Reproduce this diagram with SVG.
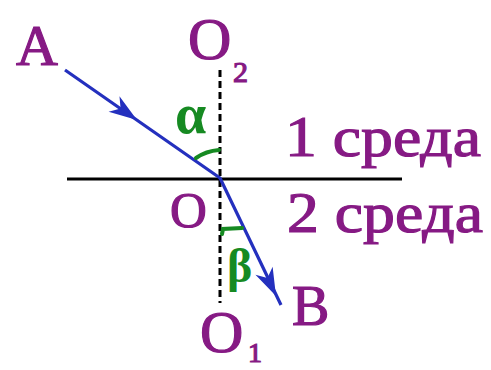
<svg xmlns="http://www.w3.org/2000/svg" width="491" height="370" viewBox="0 0 491 370">
<style>
.lbl{font-family:"Liberation Serif","Times New Roman",serif;fill:#861A84;stroke:#861A84;stroke-width:1.2;}
.grk{font-family:"Liberation Serif","Times New Roman",serif;fill:#168A22;font-weight:bold;}
.ray{stroke:#2430BE;stroke-width:3.2;fill:none;stroke-linejoin:round;}
.ah{fill:#2430BE;}
.ang{stroke:#168A22;stroke-width:4;fill:none;stroke-linecap:round;}
</style>
<defs>
<path id="ah" d="M0,0 L-28,-9.5 L-20,0 L-28,9.5 Z"/>
</defs>
<rect width="491" height="370" fill="#ffffff"/>
<g id="connectors">
<line x1="67" y1="179" x2="402" y2="179" stroke="#000" stroke-width="3"/>
<line x1="220" y1="70" x2="220" y2="303" stroke="#000" stroke-width="3" stroke-dasharray="7,4"/>
<polyline class="ray" points="65,70 220,178 281,305"/>
<use href="#ah" class="ah" transform="translate(137,120) rotate(34.9)"/>
<use href="#ah" class="ah" transform="translate(276,296) rotate(64.7)"/>
<path class="ang" d="M196,158 Q206,151 219,150"/>
<path class="ang" d="M222,234 L223,229 L242,228"/>
</g>
<g id="A"><text class="lbl" x="16" y="65" font-size="58">A</text></g>
<g id="O2"><text class="lbl" x="188" y="59" font-size="60">O</text><text class="lbl" x="233" y="82" font-size="30">2</text></g>
<g id="alpha"><text class="grk" x="175" y="133" font-size="56">α</text></g>
<g id="medium1"><text class="lbl" x="285" y="156" font-size="57" textLength="196" lengthAdjust="spacingAndGlyphs">1 среда</text></g>
<g id="O"><text class="lbl" x="170" y="227" font-size="51">O</text></g>
<g id="medium2"><text class="lbl" x="287" y="232" font-size="57" textLength="196" lengthAdjust="spacingAndGlyphs">2 среда</text></g>
<g id="beta"><text class="grk" x="227" y="282" font-size="48">β</text></g>
<g id="B"><text class="lbl" x="292" y="325" font-size="56">B</text></g>
<g id="O1"><text class="lbl" x="200" y="352" font-size="60">O</text><text class="lbl" x="248" y="362" font-size="28">1</text></g>
</svg>
